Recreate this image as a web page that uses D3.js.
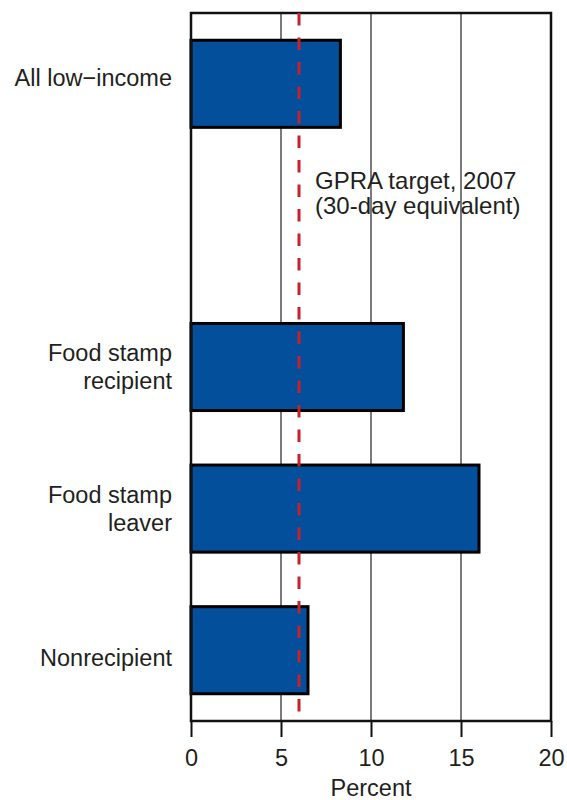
<!DOCTYPE html>
<html>
<head>
<meta charset="utf-8">
<script src="https://cdn.jsdelivr.net/npm/d3@7"></script>
<style>
  body { margin: 0; background: #fff; }
  text { font-family: "Liberation Sans", Arial, Helvetica, sans-serif; fill: #231f20; }
</style>
</head>
<body>
<div id="chart"></div>
<script>
// categories (a blank slot sits between the first and second bar)
let categories = ["All low-income", "gap", "Food stamp recipient", "Food stamp leaver", "Nonrecipient"];
let catLabels = [["All low\u2212income"], [], ["Food stamp", "recipient"], ["Food stamp", "leaver"], ["Nonrecipient"]];
let values = [8.3, null, 11.8, 16.0, 6.5];
let targetValue = 6;
let targetLabel = ["GPRA target, 2007", "(30-day equivalent)"];
let xTicks = [0, 5, 10, 15, 20];

let w = 567;
let h = 800;

let svg = d3.select("#chart").append("svg")
  .attr("width", w)
  .attr("height", h);

let x = d3.scaleLinear().domain([0, 20]).range([191, 551]);
let y = d3.scaleBand().domain(categories).range([13, 721])
  .paddingInner(0.385).paddingOuter(0.1925);

// grid lines
svg.append("g")
  .selectAll("line")
  .data([5, 10, 15])
  .enter()
  .append("line")
  .attr("x1", d => x(d)).attr("x2", d => x(d))
  .attr("y1", 13).attr("y2", 721)
  .attr("stroke", "#333")
  .attr("stroke-width", 1.3);

// bars
svg.append("g")
  .selectAll("rect")
  .data(categories.map((c, i) => ({ c: c, v: values[i] })).filter(d => d.v != null))
  .enter()
  .append("rect")
  .attr("x", x(0))
  .attr("y", d => y(d.c))
  .attr("width", d => x(d.v) - x(0))
  .attr("height", y.bandwidth())
  .attr("fill", "#034f9b")
  .attr("stroke", "#000")
  .attr("stroke-width", 3);

// frame
svg.append("rect")
  .attr("x", x(0)).attr("y", 13)
  .attr("width", x(20) - x(0)).attr("height", 721 - 13)
  .attr("fill", "none")
  .attr("stroke", "#111")
  .attr("stroke-width", 2.5);

// x axis
let xAxis = svg.append("g")
  .attr("transform", "translate(0,721)")
  .call(d3.axisBottom(x).tickValues(xTicks).tickSize(16).tickPadding(12));
xAxis.select(".domain").remove();
xAxis.selectAll(".tick line").attr("stroke", "#111").attr("stroke-width", 2);
xAxis.selectAll(".tick text")
  .attr("font-size", 23.5)
  .style("font-family", "'Liberation Sans', Arial, sans-serif")
  .attr("fill", "#231f20");

svg.append("text")
  .attr("x", x(10))
  .attr("y", 796)
  .attr("text-anchor", "middle")
  .attr("font-size", 23.5)
  .text("Percent");

// category labels
let labelShift = [2, 0, 0, 0, 16];
categories.forEach((c, i) => {
  let lines = catLabels[i];
  if (!lines.length) return;
  let cy = y(c) + y.bandwidth() / 2;
  let t = svg.append("text")
    .attr("text-anchor", "end")
    .attr("font-size", 23.5);
  lines.forEach((l, j) => {
    t.append("tspan")
      .attr("x", 172)
      .attr("y", cy + labelShift[i] + (lines.length === 2 ? (j === 0 ? -6 : 22) : 0))
      .text(l);
  });
});

// target line
svg.append("line")
  .attr("x1", x(targetValue)).attr("x2", x(targetValue))
  .attr("y1", 13).attr("y2", 721)
  .attr("stroke", "#c8202f")
  .attr("stroke-width", 3)
  .attr("stroke-dasharray", "12.5,12");

let ann = svg.append("text").attr("font-size", 24);
targetLabel.forEach((l, j) => {
  ann.append("tspan")
    .attr("x", 315)
    .attr("y", 189 + j * 25)
    .text(l);
});
</script>
</body>
</html>
